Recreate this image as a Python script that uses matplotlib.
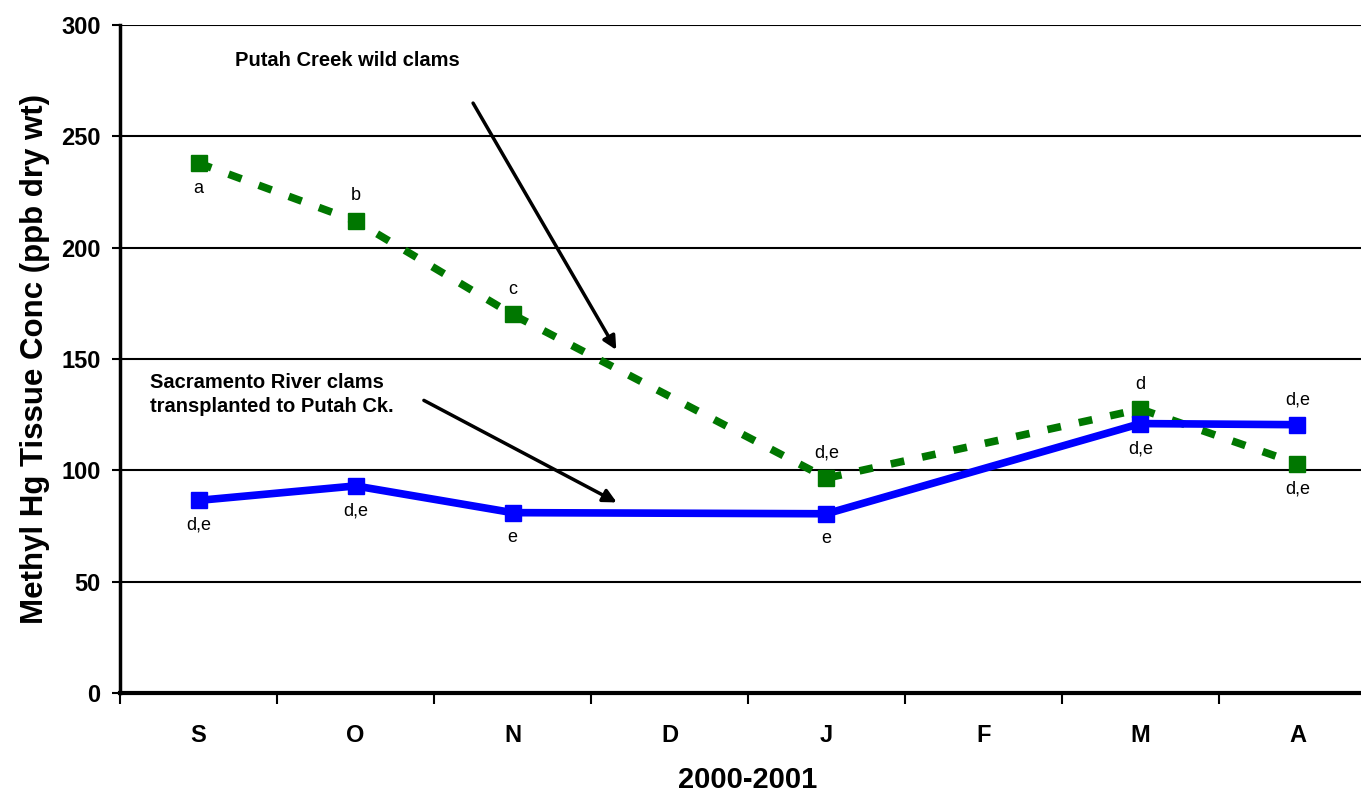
import numpy as np
import matplotlib
matplotlib.use('Agg')
import matplotlib.pyplot as plt

plt.rcParams['font.family'] = ['Liberation Sans', 'DejaVu Sans']

months = ['S', 'O', 'N', 'D', 'J', 'F', 'M', 'A']
sampled = ['S', 'O', 'N', 'J', 'M', 'A']
wild = [238, 212, 170, 96.5, 127.5, 103]
transplant = [86.5, 93, 81, 80.5, 121, 120.5]
wild_letters = ['a', 'b', 'c', 'd,e', 'd', 'd,e']
transplant_letters = ['d,e', 'd,e', 'e', 'e', 'd,e', 'd,e']
# label above (+) or below (-) the point
wild_side = [-1, 1, 1, 1, 1, -1]
transplant_side = [-1, -1, -1, -1, -1, 1]

xs = [months.index(m) for m in sampled]

fig = plt.figure(figsize=(13.61, 7.94), dpi=100)
# axes runs a little past the right edge, like the original crop
ax = fig.add_axes([120 / 1361, 1 - 693 / 794, 1256 / 1361, 668 / 794])

for y in range(50, 301, 50):
    ax.axhline(y, color='black', lw=1.5, zorder=1)

ax.plot(xs, wild, color='#007700', lw=5.5, ls=(0, (1.8, 2.4)),
        marker='s', ms=12, zorder=3)
ax.plot(xs, transplant, color='#0000ff', lw=5.5, ls='-',
        marker='s', ms=12, zorder=4)

for x, v, t, s in zip(xs, wild, wild_letters, wild_side):
    ax.annotate(t, (x, v), xytext=(0, 18 * s), textcoords='offset points',
                ha='center', va='center', fontsize=13)
for x, v, t, s in zip(xs, transplant, transplant_letters, transplant_side):
    ax.annotate(t, (x, v), xytext=(0, 18 * s), textcoords='offset points',
                ha='center', va='center', fontsize=13)

ax.annotate('', xy=(2.67, 153), xytext=(1.74, 266),
            arrowprops=dict(arrowstyle='-|>', color='black', lw=2.5,
                            mutation_scale=20))
ax.text(0.23, 284, 'Putah Creek wild clams', fontsize=14.5, fontweight='bold',
        ha='left', va='center')
ax.annotate('', xy=(2.68, 85), xytext=(1.42, 132),
            arrowprops=dict(arrowstyle='-|>', color='black', lw=2.5,
                            mutation_scale=20))
ax.text(-0.31, 134, 'Sacramento River clams\ntransplanted to Putah Ck.',
        fontsize=14.5, fontweight='bold', ha='left', va='center',
        linespacing=1.3)

ax.set_xlim(-0.5, 7.5)
ax.set_ylim(0, 300)
ax.set_yticks(range(0, 301, 50))
ax.set_xticks(np.arange(-0.5, 7.6, 1))
ax.set_xticklabels([])
ax.set_xticks(range(8), minor=True)
ax.set_xticklabels(months, minor=True)
ax.tick_params(axis='x', which='minor', length=0, pad=22, labelsize=17)
ax.tick_params(axis='x', which='major', length=8, width=1.5, direction='out')
ax.tick_params(axis='y', length=6, width=1.5, labelsize=17, pad=8)
for lab in ax.get_xticklabels(minor=True) + ax.get_yticklabels():
    lab.set_fontweight('bold')

for side in ['top', 'right']:
    ax.spines[side].set_visible(False)
ax.spines['left'].set_linewidth(2.5)
ax.spines['bottom'].set_linewidth(3)

ax.set_ylabel('Methyl Hg Tissue Conc (ppb dry wt)', fontsize=22.5,
              fontweight='bold', labelpad=8)
ax.set_xlabel('2000-2001', fontsize=21, fontweight='bold', labelpad=14)

fig.savefig('out.png', dpi=100)
